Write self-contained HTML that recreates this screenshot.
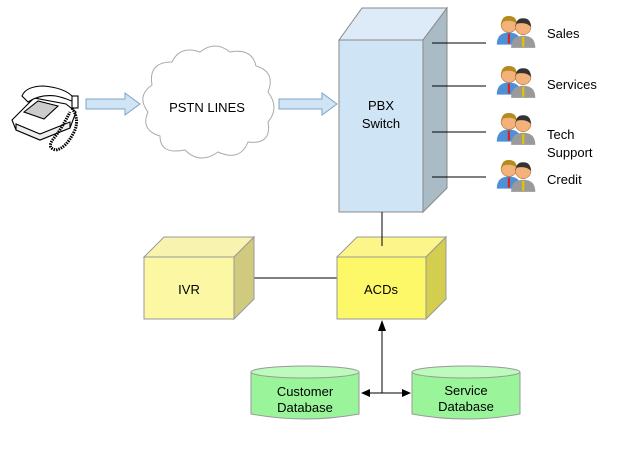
<!DOCTYPE html>
<html><head><style>body{margin:0;background:#fff}svg{display:block}text{font-family:"Liberation Sans",sans-serif;fill:#000}</style></head><body>
<svg width="643" height="455" viewBox="0 0 643 455">
<defs>
<g id="ppl">
<circle cx="9" cy="8" r="7" fill="#f2b27a" stroke="#b9773e" stroke-width=".6"/>
<path d="M2 8 Q2 0 9 0 Q16 0 16 7 Q12 3 4 5Z" fill="#b58a1e"/>
<path d="M-2 26 Q-2 15 9 15 Q20 15 20 26Z" fill="#4f8fd6"/>
<rect x="8" y="16" width="2" height="9" fill="#d22"/>
<circle cx="22" cy="10" r="7" fill="#f2b27a" stroke="#b9773e" stroke-width=".6"/>
<path d="M15 10 Q15 2 22 2 Q29 2 29 10 Q25 5 16 7Z" fill="#333"/>
<path d="M11 29 Q11 18 22 18 Q33 18 33 29Z" fill="#9a9a9a"/>
<rect x="21" y="19" width="2" height="9" fill="#e8c200"/>
</g>
</defs>
<!-- phone -->
<g stroke="#000" stroke-width="1.1" fill="#fff">
<path d="M12 120 L34 98 L66 104 L76 112 L70 128 L40 140 L16 130 Z"/>
<path d="M16 130 L16 124 L40 134 L70 122 L70 128 L40 140 Z" fill="#eee"/>
<path d="M22 96 Q26 86 44 86 Q64 88 72 96 L78 104 Q66 98 56 96 Q40 94 28 102 Z"/>
<path d="M24 112 L38 101 L58 106 L44 119 Z" fill="#ccc"/>
<rect x="72" y="96" width="6" height="12"/>
<path d="M72 108 Q80 120 74 132 Q66 148 56 150 Q46 148 54 138 Q62 128 70 112" fill="none" stroke-width="3" stroke-dasharray="1.5 1"/>
</g>
<!-- block arrows -->
<path d="M86 99 H125 V93 L140 104 L125 115 V109 H86Z" fill="#cfe4f5" stroke="#7fa4c4"/>
<path d="M279 99 H322 V93 L337 104 L322 115 V109 H279Z" fill="#cfe4f5" stroke="#7fa4c4"/>
<!-- cloud -->
<path d="M152 85 Q148 62 172 62 Q180 45 200 52 Q215 40 230 52 Q252 48 256 66 Q276 72 268 92 Q280 108 268 122 Q272 145 248 142 Q240 162 218 152 Q200 165 185 150 Q160 155 160 136 Q140 130 148 112 Q136 96 152 85Z" fill="#fff" stroke="#aaa"/>
<text x="207" y="112" font-size="13" text-anchor="middle">PSTN LINES</text>
<!-- PBX -->
<polygon points="339,40 362,8 447,8 423,40" fill="#dcebf7" stroke="#888"/>
<polygon points="423,40 447,8 447,188 423,212" fill="#a9bcc6" stroke="#888"/>
<rect x="339" y="40" width="84" height="172" fill="#cfe4f5" stroke="#888"/>
<text x="381" y="110" font-size="13" text-anchor="middle">PBX</text>
<text x="381" y="128" font-size="13" text-anchor="middle">Switch</text>
<g stroke="#000" stroke-width="1"><line x1="432" y1="43" x2="486" y2="43"/><line x1="432" y1="86" x2="486" y2="86"/><line x1="432" y1="132" x2="486" y2="132"/><line x1="432" y1="177" x2="486" y2="177"/>
<line x1="382" y1="212" x2="382" y2="246"/><line x1="244" y1="278" x2="337" y2="278"/>
<line x1="382" y1="330" x2="382" y2="393"/><line x1="368" y1="393" x2="404" y2="393"/></g>
<polygon points="382,320 378,331 386,331"/>
<polygon points="361,393 370,389 370,397"/>
<polygon points="411,393 402,389 402,397"/>
<g transform="translate(499,16) scale(1.1)"><use href="#ppl"/></g>
<g transform="translate(499,66) scale(1.1)"><use href="#ppl"/></g>
<g transform="translate(499,113) scale(1.1)"><use href="#ppl"/></g>
<g transform="translate(499,160) scale(1.1)"><use href="#ppl"/></g>
<g font-size="13"><text x="547" y="38">Sales</text><text x="547" y="89">Services</text><text x="547" y="139">Tech</text><text x="547" y="157">Support</text><text x="547" y="184">Credit</text></g>
<!-- IVR -->
<polygon points="144,257 164,237 254,237 234,257" fill="#f9f3b0" stroke="#999"/>
<polygon points="234,257 254,237 254,299 234,319" fill="#cfca7e" stroke="#999"/>
<rect x="144" y="257" width="90" height="62" fill="#fbf7a2" stroke="#999"/>
<text x="189" y="294" font-size="13" text-anchor="middle">IVR</text>
<!-- ACDs -->
<polygon points="337,257 357,237 446,237 426,257" fill="#fbf58a" stroke="#999"/>
<polygon points="426,257 446,237 446,299 426,319" fill="#d3cd50" stroke="#999"/>
<rect x="337" y="257" width="89" height="62" fill="#fdf868" stroke="#999"/>
<text x="381" y="294" font-size="13" text-anchor="middle">ACDs</text>
<line x1="382" y1="236" x2="382" y2="246" stroke="#000"/>
<!-- DBs -->
<g stroke="#999">
<path d="M251 372 V414 Q305 424 359 414 V372" fill="#9af59a"/>
<ellipse cx="305" cy="372" rx="54" ry="6" fill="#bdfbbd"/>
<path d="M412 372 V414 Q466 424 520 414 V372" fill="#9af59a"/>
<ellipse cx="466" cy="372" rx="54" ry="6" fill="#bdfbbd"/>
</g>
<g font-size="13" text-anchor="middle"><text x="305" y="396">Customer</text><text x="305" y="412">Database</text><text x="466" y="395">Service</text><text x="466" y="411">Database</text></g>
</svg>
</body></html>
